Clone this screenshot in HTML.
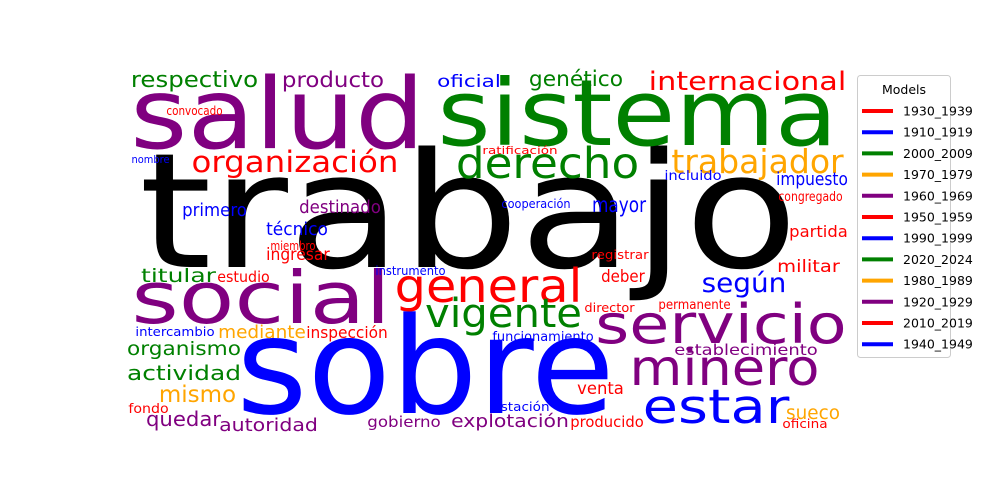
<!DOCTYPE html>
<html><head><meta charset="utf-8">
<style>
html,body{margin:0;padding:0;background:#fff;}
svg{display:block;}
text{font-family:"DejaVu Sans","Liberation Sans",sans-serif;}
</style></head>
<body>
<svg id="cloud" width="1000" height="500" viewBox="0 0 1000 500" xmlns="http://www.w3.org/2000/svg">
<g id="words"></g>
<g id="legend">
<rect x="857.5" y="75.5" width="93" height="282" rx="3" fill="#fff" stroke="#ccc"/>
<text x="904" y="94" font-size="12.5" text-anchor="middle" fill="#000">Models</text>
</g>
</svg>
<script>
var R='#ff0000',B='#0000ff',G='#008000',O='#ffa500',P='#800080',K='#000000';
// word, color, left, right, baseline, font-size
var words=[
['trabajo',K,147,790,267,160],
['sobre',B,243,608,413,134],
['sistema',G,442,833,145,92],
['salud',P,135,420,148,98],
['social',P,135,387,323,72],
['servicio',P,598,844,343,54],
['minero',P,632,817,385,50],
['estar',B,645,787,423,47],
['general',R,397,580,302,46],
['derecho',G,458,637,178,43],
['vigente',G,427,580,327,40],
['trabajador',O,673,842,173,33],
['organización',R,193,397,172,29],
['según',B,703,785,292,27],
['internacional',R,650,845,90,26],
['respectivo',G,132,257,87,22],
['producto',P,283,383,87,21],
['genético',G,530,622,86,21],
['oficial',B,438,500,87,17],
['mismo',O,160,235,402,23],
['mayor',B,593,645,212,21],
['actividad',G,128,240,380,20],
['quedar',P,147,220,426,20],
['organismo',G,128,240,355,19],
['titular',G,142,215,282,19],
['sueco',O,787,839,419,19],
['primero',B,183,246,216,18],
['destinado',P,300,380,213,18],
['técnico',B,267,327,235,18],
['mediante',O,219,305,338,18],
['autoridad',P,220,317,431,18],
['explotación',P,452,568,427,18],
['impuesto',B,777,847,185,18],
['ingresar',R,267,329,260,17],
['deber',R,602,644,282,17],
['militar',R,778,839,272,17],
['venta',R,578,623,394,17],
['inspección',R,307,387,338,16],
['partida',R,790,847,237,16],
['estudio',R,218,269,282,15],
['gobierno',P,368,440,427,15],
['producido',R,571,643,427,15],
['establecimiento',P,675,817,355,15],
['permanente',R,659,730,309,13],
['funcionamiento',B,493,593,341,13],
['incluido',B,665,721,180,13],
['congregado',R,779,842,201,13],
['fondo',R,129,168,413,13],
['convocado',R,167,222,115,12],
['miembro',R,271,315,250,12],
['instrumento',B,376,445,275,12],
['intercambio',B,136,214,336,12],
['director',R,585,634,312,12],
['estación',B,493,549,411,12],
['registrar',R,592,648,259,12],
['cooperación',B,502,570,208,12],
['oficina',R,783,827,428,12],
['nombre',B,132,169,163,11],
['ratificación',R,483,557,154,11]
];
var legendLabels=['1930_1939','1910_1919','2000_2009','1970_1979','1960_1969','1950_1959','1990_1999','2020_2024','1980_1989','1920_1929','2010_2019','1940_1949'];
var legendColors=[R,B,G,O,P,R,B,G,O,P,R,B];
var NS='http://www.w3.org/2000/svg';
var wg=document.getElementById('words');
words.forEach(function(w){
  var t=document.createElementNS(NS,'text');
  var fs=w[5], pad=0.05*fs;
  t.setAttribute('x',w[2]-pad);
  t.setAttribute('y',w[4]);
  t.setAttribute('font-size',fs);
  t.setAttribute('fill',w[1]);
  t.setAttribute('textLength',(w[3]-w[2])+2*pad);
  t.setAttribute('lengthAdjust','spacingAndGlyphs');
  t.textContent=w[0];
  
  
  wg.appendChild(t);
});
var lg=document.getElementById('legend');
legendLabels.forEach(function(lab,i){
  var y=111+i*21.2;
  var g=document.createElementNS(NS,'g');
  
  
  var l=document.createElementNS(NS,'line');
  l.setAttribute('x1',862);l.setAttribute('x2',893);
  l.setAttribute('y1',y);l.setAttribute('y2',y);
  l.setAttribute('stroke',legendColors[i]);l.setAttribute('stroke-width',4);
  
  
  var t=document.createElementNS(NS,'text');
  t.setAttribute('x',903);t.setAttribute('y',y+4.5);
  t.setAttribute('font-size',12.5);t.setAttribute('fill','#000');
  t.textContent=lab;
  
  
  g.appendChild(l);g.appendChild(t);lg.appendChild(g);
});
</script>
</body></html>
